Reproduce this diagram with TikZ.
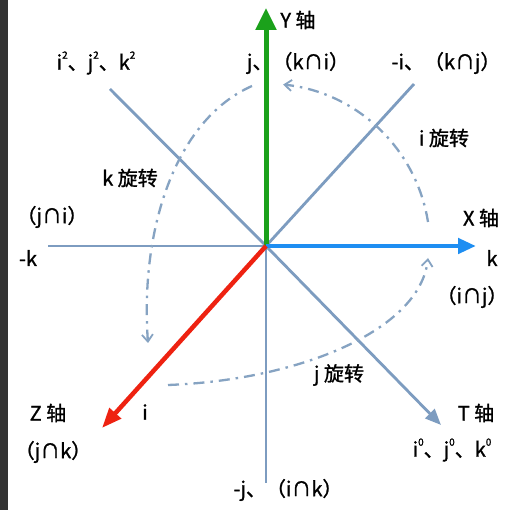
\documentclass[tikz,border=0pt]{standalone}
\usepackage{fontspec}
\setmainfont{Noto Sans CJK SC}[FakeBold=1.2]
\usetikzlibrary{arrows.meta}
\definecolor{axisgray}{HTML}{7D9CC0}
\definecolor{rotgray}{HTML}{86A3C2}
\definecolor{ygreen}{HTML}{1BA11B}
\definecolor{xblue}{HTML}{1E8EF2}
\definecolor{zred}{HTML}{EE2211}
\newcommand{\smallsup}[1]{\raisebox{0.55em}{\fontsize{10}{10}\selectfont #1}}
\tikzset{
  lbl/.style={font=\fontsize{20}{22}\selectfont, inner sep=0pt, text=black},
  grayline/.style={draw=axisgray, line width=2.8pt},
  rotcurve/.style={draw=rotgray, line width=2.3pt, dash pattern=on 11pt off 6pt on 2.5pt off 6pt, -{Straight Barb[length=7pt,width=11pt,line width=1.8pt]}},
}
\begin{document}
\begin{tikzpicture}[x=1pt,y=-1pt]
\useasboundingbox (0,0) rectangle (515,510);
\fill[white] (0,0) rectangle (515,510);
\fill[black!80] (0,0) rectangle (8,510);
% centre and ends
\coordinate (O) at (266,246);
\coordinate (nw) at (110,89);
\coordinate (ne) at (414,84);
\coordinate (w) at (48,246);
\coordinate (s) at (266,483);
\coordinate (t) at (441,425);
\coordinate (y) at (266,8);
\coordinate (x) at (476,246);
\coordinate (z) at (102,428);
% gray lines
\draw[grayline] (O) -- (nw);
\draw[grayline] (O) -- (ne);
\draw[grayline] (O) -- (w);
\draw[grayline] (O) -- (s);
\draw[grayline, -{Triangle[length=16pt,width=13pt]}] (O) -- (t);
% rotation curves
\coordinate (i1) at (428,222);
\draw[rotcurve] (i1) arc[start angle=-9, end angle=-84, radius=164];
\coordinate (k1) at (252,86);
\coordinate (k2) at (148,343);
\draw[rotcurve] (k1) .. controls (175,120) and (140,230) .. (k2);
\coordinate (j1) at (168,385);
\coordinate (j2) at (428,258);
\draw[rotcurve] (j1) .. controls (300,380) and (420,330) .. (j2);
% coloured axes
\draw[ygreen, line width=5pt, -{Triangle[length=22pt,width=20pt]}] (O) -- (y);
\draw[xblue, line width=4.5pt, -{Triangle[length=18pt,width=15pt]}] (O) -- (x);
\draw[zred, line width=4.5pt, -{Triangle[length=20pt,width=15pt]}] (O) -- (z);
% labels
\node[lbl] (ly) at (298,20) {Y 轴};
\node[lbl] (lyt) at (298,63) {j、（k∩i）};
\node[lbl] (lne) at (446,63) {-i、（k∩j）};
\node[lbl] (lnw) at (96,63) {i\smallsup{2}、j\smallsup{2}、k\smallsup{2}};
\node[lbl] (lir) at (444,138) {i 旋转};
\node[lbl] (lkr) at (130,178) {k 旋转};
\node[lbl] (lji) at (52,217) {（j∩i）};
\node[lbl] (lmk) at (28,258) {-k};
\node[lbl] (lx) at (481,218) {X 轴};
\node[lbl] (lk) at (492,258) {k};
\node[lbl] (lij) at (472,297) {（i∩j）};
\node[lbl] (ljr) at (339,375) {j 旋转};
\node[lbl] (lz) at (48,413) {Z 轴};
\node[lbl] (li) at (145,412) {i};
\node[lbl] (ljk) at (53,452) {（j∩k）};
\node[lbl] (lt) at (476,413) {T 轴};
\node[lbl] (lt0) at (452,450) {i\smallsup{0}、j\smallsup{0}、k\smallsup{0}};
\node[lbl] (lmj) at (288,490) {-j、（i∩k）};
\end{tikzpicture}
\end{document}
